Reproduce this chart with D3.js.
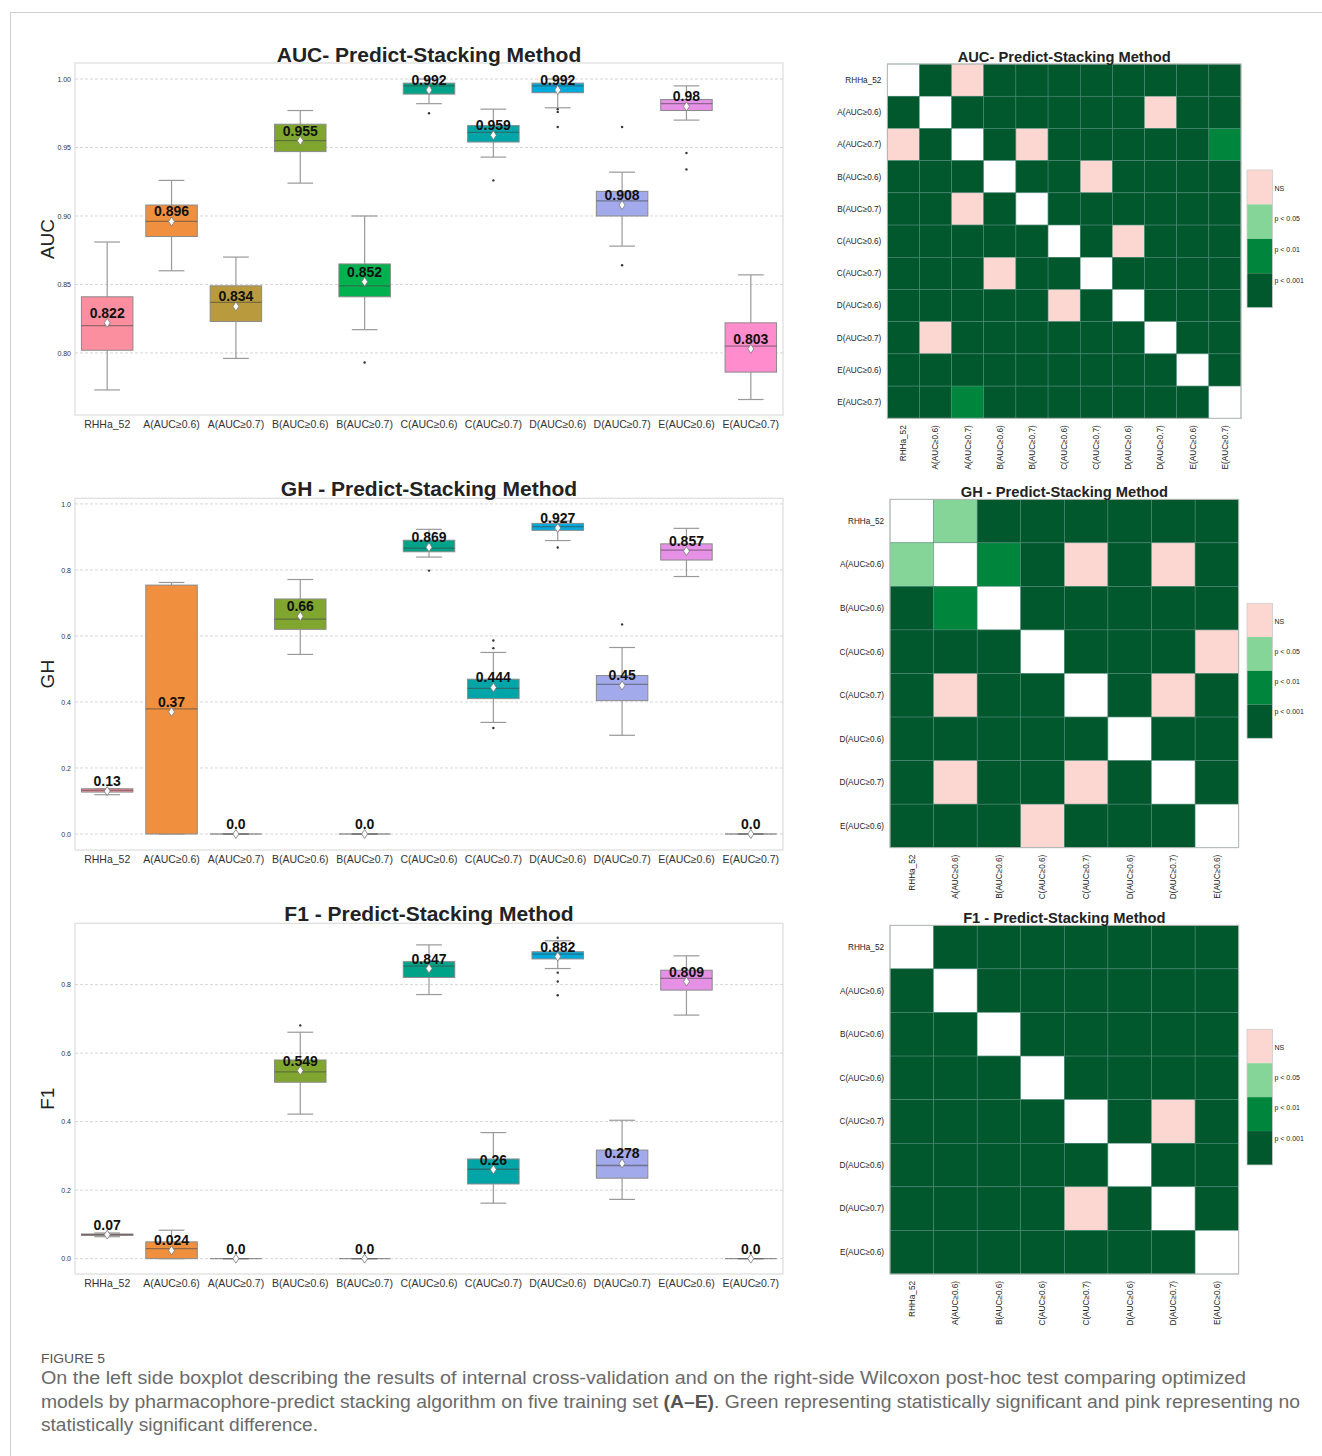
<!DOCTYPE html>
<html lang="en">
<head>
<meta charset="UTF-8">
<title>Figure 5 - Predict-Stacking Method</title>
<script src="https://d3js.org/d3.v7.min.js"></script>
<style>
  body { margin:0; background:#fff; }
  svg text { font-family: "Liberation Sans", Arial, sans-serif; }
  .caption { font-family: "Open Sans", sans-serif; fill:#6a6a6a; }
</style>
</head>
<body>
<div id="chart"></div>
<script>
// ---- data ----
var groups = ["RHHa_52","A(AUC≥0.6)","A(AUC≥0.7)","B(AUC≥0.6)","B(AUC≥0.7)","C(AUC≥0.6)","C(AUC≥0.7)","D(AUC≥0.6)","D(AUC≥0.7)","E(AUC≥0.6)","E(AUC≥0.7)"];
var boxColors = ["#fb8f9f","#f0903f","#b99a3c","#80a630","#00b14f","#00a388","#00a5a8","#00a9dc","#a2aaeb","#e690e6","#ff8ccc"];

// AUC
var aucLow  = [0.773,0.860,0.796,0.924,0.817,0.982,0.943,0.979,0.878,0.970,0.766];
var aucQ1   = [0.802,0.885,0.823,0.947,0.841,0.989,0.954,0.990,0.900,0.977,0.786];
var aucMed  = [0.820,0.896,0.837,0.955,0.849,0.995,0.961,0.995,0.911,0.982,0.805];
var aucQ3   = [0.841,0.908,0.849,0.967,0.865,0.997,0.966,0.997,0.918,0.985,0.822];
var aucHigh = [0.881,0.926,0.870,0.977,0.900,1.000,0.978,1.000,0.932,0.995,0.857];
var aucMean = [0.822,0.896,0.834,0.955,0.852,0.992,0.959,0.992,0.908,0.98,0.803];
var aucOut  = [[],[],[],[],[0.793],[0.975],[0.926],[0.978,0.976,0.965],[0.965,0.864],[0.946,0.934],[]];
var aucTicks = [0.80,0.85,0.90,0.95,1.00];

// GH
var ghLow  = [0.119,0,0,0.544,0,0.839,0.338,0.889,0.299,0.780,0];
var ghQ1   = [0.127,0,0,0.620,0,0.855,0.410,0.920,0.404,0.830,0];
var ghMed  = [0.132,0.379,0,0.651,0,0.866,0.441,0.931,0.453,0.860,0];
var ghQ3   = [0.137,0.754,0,0.712,0,0.890,0.469,0.941,0.480,0.879,0];
var ghHigh = [0.137,0.762,0,0.771,0,0.923,0.550,0.948,0.565,0.926,0];
var ghMean = [0.13,0.37,0.0,0.66,0.0,0.869,0.444,0.927,0.45,0.857,0.0];
var ghOut  = [[],[],[],[],[],[0.798],[0.586,0.563,0.321],[0.868],[0.635],[],[]];
var ghTicks = [0.0,0.2,0.4,0.6,0.8,1.0];

// F1
var f1Low  = [0.064,0,0,0.422,0,0.771,0.162,0.847,0.173,0.711,0];
var f1Q1   = [0.068,0,0,0.515,0,0.821,0.218,0.875,0.235,0.784,0];
var f1Med  = [0.070,0.029,0,0.545,0,0.854,0.261,0.889,0.272,0.818,0];
var f1Q3   = [0.072,0.049,0,0.580,0,0.867,0.291,0.896,0.317,0.842,0];
var f1High = [0.075,0.083,0,0.661,0,0.916,0.368,0.928,0.404,0.884,0];
var f1Mean = [0.07,0.024,0.0,0.549,0.0,0.847,0.26,0.882,0.278,0.809,0.0];
var f1Out  = [[],[],[],[0.681],[],[],[],[0.937,0.835,0.809,0.769],[],[],[]];
var f1Ticks = [0.0,0.2,0.4,0.6,0.8];

// post-hoc significance: 0 diagonal, 1 NS, 2 p<0.05, 3 p<0.01, 4 p<0.001
var sigNames = ["", "NS", "p < 0.05", "p < 0.01", "p < 0.001"];
var sigColors = ["#ffffff","#fcd6d1","#84d597","#00863c","#02582d"];
var aucLabels = groups;
var aucSig = [
  [0,4,1,4,4,4,4,4,4,4,4],
  [4,0,4,4,4,4,4,4,1,4,4],
  [1,4,0,4,1,4,4,4,4,4,3],
  [4,4,4,0,4,4,1,4,4,4,4],
  [4,4,1,4,0,4,4,4,4,4,4],
  [4,4,4,4,4,0,4,1,4,4,4],
  [4,4,4,1,4,4,0,4,4,4,4],
  [4,4,4,4,4,1,4,0,4,4,4],
  [4,1,4,4,4,4,4,4,0,4,4],
  [4,4,4,4,4,4,4,4,4,0,4],
  [4,4,3,4,4,4,4,4,4,4,0]];
var ghLabels = ["RHHa_52","A(AUC≥0.6)","B(AUC≥0.6)","C(AUC≥0.6)","C(AUC≥0.7)","D(AUC≥0.6)","D(AUC≥0.7)","E(AUC≥0.6)"];
var ghSig = [
  [0,2,4,4,4,4,4,4],
  [2,0,3,4,1,4,1,4],
  [4,3,0,4,4,4,4,4],
  [4,4,4,0,4,4,4,1],
  [4,1,4,4,0,4,1,4],
  [4,4,4,4,4,0,4,4],
  [4,1,4,4,1,4,0,4],
  [4,4,4,1,4,4,4,0]];
var f1Labels = ghLabels;
var f1Sig = [
  [0,4,4,4,4,4,4,4],
  [4,0,4,4,4,4,4,4],
  [4,4,0,4,4,4,4,4],
  [4,4,4,0,4,4,4,4],
  [4,4,4,4,0,4,1,4],
  [4,4,4,4,4,0,4,4],
  [4,4,4,4,1,4,0,4],
  [4,4,4,4,4,4,4,0]];

// ---- drawing ----
var svg = d3.select("#chart").append("svg").attr("width",1322).attr("height",1456);

// page frame
svg.append("line").attr("x1",10).attr("x2",1322).attr("y1",12.5).attr("y2",12.5).attr("stroke","#cfcfcf");
svg.append("line").attr("x1",10.5).attr("x2",10.5).attr("y1",12).attr("y2",1456).attr("stroke","#cfcfcf");

function boxPanel(p) {
  var left = 75, right = 783;
  var x = d3.scaleBand().domain(groups).range([left,right]);
  var y = d3.scaleLinear().domain(p.domain).range([p.bottom,p.top]);
  var g = svg.append("g");
  var bw = x.bandwidth();

  g.append("rect").attr("x",left).attr("y",p.top).attr("width",right-left).attr("height",p.bottom-p.top)
    .attr("fill","none").attr("stroke","#dcdcdc").attr("stroke-width",1.2);

  g.selectAll("line.grid").data(p.ticks).enter().append("line")
    .attr("x1",left).attr("x2",right)
    .attr("y1",function(d){return y(d);}).attr("y2",function(d){return y(d);})
    .attr("stroke","#cccccc").attr("stroke-width",0.8).attr("stroke-dasharray","3,2");

  var ya = g.append("g").attr("transform","translate("+(left-4)+",0)")
    .call(d3.axisLeft(y).tickValues(p.ticks).tickSize(0).tickPadding(0).tickFormat(p.fmt));
  ya.select(".domain").remove();
  ya.selectAll("text").attr("font-size",7).attr("fill","#333").style("font-family","Liberation Sans, Arial");

  var xa = g.append("g").attr("transform","translate(0,"+p.bottom+")")
    .call(d3.axisBottom(x).tickSize(0).tickPadding(6));
  xa.select(".domain").remove();
  xa.selectAll("text").attr("font-size",10.5).attr("fill","#333").style("font-family","Liberation Sans, Arial");

  g.append("text").attr("x",(left+right)/2).attr("y",p.titleY).attr("text-anchor","middle")
    .attr("font-size",21).attr("font-weight","bold").attr("fill","#222").text(p.title);
  g.append("text").attr("transform","translate(54,"+((p.top+p.bottom)/2)+") rotate(-90)")
    .attr("text-anchor","middle").attr("font-size",19).attr("fill","#222").text(p.ylabel);

  var idx = d3.range(groups.length);
  var bx = g.selectAll("g.box").data(idx).enter().append("g");
  var cx = function(i){ return x(groups[i]) + bw/2; };

  // whiskers + caps
  bx.append("line").attr("x1",cx).attr("x2",cx)
    .attr("y1",function(i){return y(p.low[i]);}).attr("y2",function(i){return y(p.q1[i]);})
    .attr("stroke","#999").attr("stroke-width",1.2);
  bx.append("line").attr("x1",cx).attr("x2",cx)
    .attr("y1",function(i){return y(p.q3[i]);}).attr("y2",function(i){return y(p.high[i]);})
    .attr("stroke","#999").attr("stroke-width",1.2);
  [p.low, p.high].forEach(function(arr){
    bx.append("line").attr("x1",function(i){return cx(i)-bw*0.2;}).attr("x2",function(i){return cx(i)+bw*0.2;})
      .attr("y1",function(i){return y(arr[i]);}).attr("y2",function(i){return y(arr[i]);})
      .attr("stroke","#999").attr("stroke-width",1.2);
  });
  // boxes
  bx.append("rect").attr("x",function(i){return cx(i)-bw*0.4;}).attr("width",bw*0.8)
    .attr("y",function(i){return y(p.q3[i]);})
    .attr("height",function(i){return y(p.q1[i])-y(p.q3[i]);})
    .attr("fill",function(i){return boxColors[i];})
    .attr("stroke","#8a8a8a").attr("stroke-width",1);
  // medians
  bx.append("line").attr("x1",function(i){return cx(i)-bw*0.4;}).attr("x2",function(i){return cx(i)+bw*0.4;})
    .attr("y1",function(i){return y(p.med[i]);}).attr("y2",function(i){return y(p.med[i]);})
    .attr("stroke","rgba(70,70,70,0.55)").attr("stroke-width",1.3);
  // outliers
  bx.selectAll("circle").data(function(i){ return p.out[i].map(function(v){return [i,v];}); })
    .enter().append("circle")
    .attr("cx",function(d){return cx(d[0]);}).attr("cy",function(d){return y(d[1]);})
    .attr("r",1.2).attr("fill","#333");
  // means
  bx.append("path").attr("d","M0,-4.5L3,0L0,4.5L-3,0Z")
    .attr("transform",function(i){return "translate("+cx(i)+","+y(p.mean[i])+")";})
    .attr("fill","#fff").attr("stroke","#777").attr("stroke-width",0.8);
  bx.append("text").attr("x",cx).attr("y",function(i){return y(p.mean[i])-5;})
    .attr("text-anchor","middle").attr("font-size",14).attr("font-weight","bold").attr("fill","#111")
    .text(function(i){ return p.mean[i] === 0 ? "0.0" : String(p.mean[i]); });
}

function heatPanel(p) {
  var n = p.labels.length;
  var x = d3.scaleBand().domain(d3.range(n)).range([p.left,p.right]);
  var y = d3.scaleBand().domain(d3.range(n)).range([p.top,p.bottom]);
  var color = d3.scaleOrdinal().domain([0,1,2,3,4]).range(sigColors);
  var g = svg.append("g");

  var cells = [];
  p.sig.forEach(function(row,r){ row.forEach(function(v,c){ cells.push({r:r,c:c,v:v}); }); });
  g.selectAll("rect.cell").data(cells).enter().append("rect")
    .attr("x",function(d){return x(d.c);}).attr("y",function(d){return y(d.r);})
    .attr("width",x.bandwidth()).attr("height",y.bandwidth())
    .attr("fill",function(d){return color(d.v);})
    .attr("stroke","#4f8b79").attr("stroke-width",0.5);
  g.append("rect").attr("x",p.left).attr("y",p.top).attr("width",p.right-p.left).attr("height",p.bottom-p.top)
    .attr("fill","none").attr("stroke","#bbb").attr("stroke-width",1);

  g.selectAll("text.row").data(p.labels).enter().append("text")
    .attr("x",p.left-6).attr("y",function(d,i){return y(i)+y.bandwidth()/2;}).attr("dy","0.35em")
    .attr("text-anchor","end").attr("font-size",8.2).attr("fill","#222").text(function(d){return d;});
  g.selectAll("text.col").data(p.labels).enter().append("text")
    .attr("transform",function(d,i){return "translate("+(x(i)+x.bandwidth()/2)+","+(p.bottom+7)+") rotate(-90)";})
    .attr("dy","0.35em").attr("text-anchor","end").attr("font-size",8.2).attr("fill","#222").text(function(d){return d;});

  g.append("text").attr("x",(p.left+p.right)/2).attr("y",p.titleY).attr("text-anchor","middle")
    .attr("font-size",14.7).attr("font-weight","bold").attr("fill","#222").text(p.title);

  // colour bar legend
  var lx = 1247, lw = 25.5, lh = p.legH, segH = lh/4;
  [1,2,3,4].forEach(function(code,k){
    g.append("rect").attr("x",lx).attr("y",p.legY+k*segH).attr("width",lw).attr("height",segH)
      .attr("fill",sigColors[code]);
  });
  g.append("rect").attr("x",lx).attr("y",p.legY).attr("width",lw).attr("height",lh)
    .attr("fill","none").attr("stroke","#ccc").attr("stroke-width",0.8);
  var labPos = [0.132,0.354,0.576,0.802];
  [1,2,3,4].forEach(function(code,k){
    g.append("text").attr("x",lx+lw+2).attr("y",p.legY+labPos[k]*lh).attr("dy","0.35em")
      .attr("font-size",7).attr("fill","#222").text(sigNames[code]);
  });
}

boxPanel({top:63, bottom:415, domain:[0.7547,1.0117], ticks:aucTicks, fmt:d3.format(".2f"),
  title:"AUC- Predict-Stacking Method", titleY:62, ylabel:"AUC",
  low:aucLow, q1:aucQ1, med:aucMed, q3:aucQ3, high:aucHigh, mean:aucMean, out:aucOut});
boxPanel({top:498.3, bottom:850, domain:[-0.0485,1.017], ticks:ghTicks, fmt:d3.format(".1f"),
  title:"GH - Predict-Stacking Method", titleY:496, ylabel:"GH",
  low:ghLow, q1:ghQ1, med:ghMed, q3:ghQ3, high:ghHigh, mean:ghMean, out:ghOut});
boxPanel({top:923.3, bottom:1274, domain:[-0.0448,0.979], ticks:f1Ticks, fmt:d3.format(".1f"),
  title:"F1 - Predict-Stacking Method", titleY:921, ylabel:"F1",
  low:f1Low, q1:f1Q1, med:f1Med, q3:f1Q3, high:f1High, mean:f1Mean, out:f1Out});

heatPanel({left:887.3, right:1241, top:64, bottom:418.3, labels:aucLabels, sig:aucSig,
  title:"AUC- Predict-Stacking Method", titleY:61.5, legY:170, legH:137.7});
heatPanel({left:890, right:1238.7, top:499.3, bottom:847.7, labels:ghLabels, sig:ghSig,
  title:"GH - Predict-Stacking Method", titleY:497, legY:603.3, legH:135});
heatPanel({left:890, right:1238.7, top:925.3, bottom:1274, labels:f1Labels, sig:f1Sig,
  title:"F1 - Predict-Stacking Method", titleY:922.5, legY:1029.3, legH:135.7});

// caption
var cap = svg.append("g").attr("class","caption");
cap.append("text").attr("x",41).attr("y",1363).attr("font-size",12.5).attr("textLength",64)
  .attr("lengthAdjust","spacingAndGlyphs").attr("fill","#555").text("FIGURE 5");
cap.append("text").attr("x",41).attr("y",1384).attr("font-size",17.5).attr("textLength",1205)
  .attr("lengthAdjust","spacingAndGlyphs")
  .text("On the left side boxplot describing the results of internal cross-validation and on the right-side Wilcoxon post-hoc test comparing optimized");
var l2 = cap.append("text").attr("x",41).attr("y",1408).attr("font-size",17.5).attr("textLength",1259)
  .attr("lengthAdjust","spacingAndGlyphs");
l2.append("tspan").text("models by pharmacophore-predict stacking algorithm on five training set ");
l2.append("tspan").attr("font-weight","bold").attr("fill","#555").text("(A–E)");
l2.append("tspan").text(". Green representing statistically significant and pink representing no");
cap.append("text").attr("x",41).attr("y",1431).attr("font-size",17.5).attr("textLength",277)
  .attr("lengthAdjust","spacingAndGlyphs").text("statistically significant difference.");
</script>
</body>
</html>
